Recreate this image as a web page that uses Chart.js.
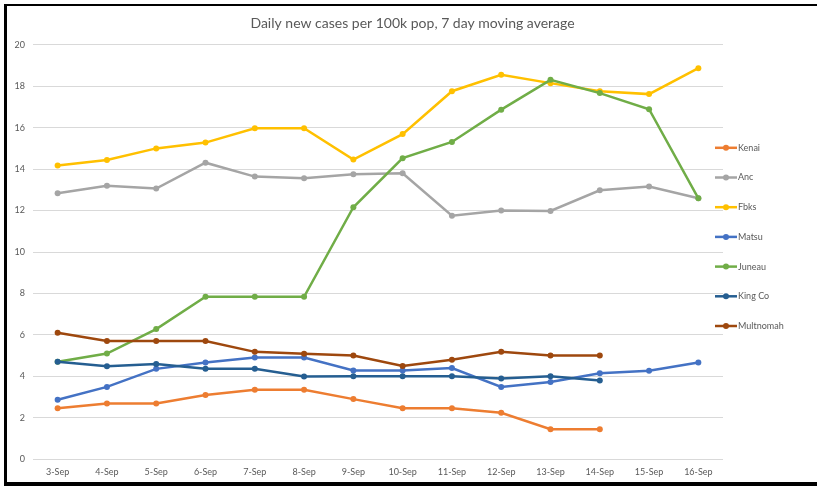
<!DOCTYPE html>
<html>
<head>
<meta charset="UTF-8">
<title>Daily new cases per 100k pop</title>
<script src="https://cdn.jsdelivr.net/npm/chart.js"></script>
<style>
    html, body { margin: 0; padding: 0; background: #fff; }
    #wrap { position: relative; width: 817px; height: 487px; overflow: hidden; }
    #frame {
        position: absolute; left: 4px; top: 4px; width: 900px; height: 476px;
        border-top: 2px solid #000; border-left: 3px solid #000; border-bottom: 4px solid #000;
        pointer-events: none;
    }
</style>
</head>
<body>
<div id="wrap">
    <canvas id="chart" width="817" height="487"></canvas>
    <div id="frame"></div>
</div>
<script>
    const days = ['3-Sep', '4-Sep', '5-Sep', '6-Sep', '7-Sep', '8-Sep', '9-Sep',
                  '10-Sep', '11-Sep', '12-Sep', '13-Sep', '14-Sep', '15-Sep', '16-Sep'];

    const kenai     = [2.46, 2.69, 2.69, 3.10, 3.35, 3.35, 2.90, 2.46, 2.46, 2.24, 1.45, 1.45, null, null];
    const anc       = [12.84, 13.20, 13.06, 14.31, 13.64, 13.56, 13.75, 13.80, 11.75, 12.00, 11.98, 12.98, 13.16, 12.59];
    const fbks      = [14.17, 14.44, 15.00, 15.28, 15.97, 15.97, 14.46, 15.69, 17.76, 18.55, 18.15, 17.76, 17.62, 18.87];
    const matsu     = [2.87, 3.49, 4.36, 4.67, 4.91, 4.91, 4.28, 4.28, 4.40, 3.49, 3.73, 4.15, 4.27, 4.67];
    const juneau    = [4.70, 5.10, 6.28, 7.84, 7.84, 7.84, 12.16, 14.53, 15.31, 16.87, 18.31, 17.67, 16.89, 12.59];
    const kingCo    = [4.70, 4.49, 4.60, 4.36, 4.36, 3.99, 4.00, 4.00, 4.00, 3.90, 4.00, 3.80, null, null];
    const multnomah = [6.10, 5.70, 5.70, 5.70, 5.18, 5.09, 5.00, 4.50, 4.80, 5.18, 5.00, 5.00, null, null];

    const seriesNames  = ['Kenai', 'Anc', 'Fbks', 'Matsu', 'Juneau', 'King Co', 'Multnomah'];
    const seriesValues = [kenai, anc, fbks, matsu, juneau, kingCo, multnomah];
    const seriesColors = ['#ED7D31', '#A5A5A5', '#FFC000', '#4472C4', '#70AD47', '#255E91', '#9E480E'];

    const yTicks = { min: 0, max: 20, step: 2 };

    const textColor = '#595959';
    const fontFamily = 'Lato, "Open Sans", sans-serif';

    // legend drawn like Excel: short line with a dot, to the right of the plot
    const sideLegend = {
        id: 'sideLegend',
        afterDraw(chart) {
            const ctx = chart.ctx;
            const area = chart.chartArea;
            const x0 = area.right - 8;
            const y0 = area.top + 103;
            ctx.save();
            ctx.font = '9px ' + fontFamily;
            ctx.textBaseline = 'middle';
            chart.data.datasets.forEach((ds, i) => {
                const y = y0 + i * 29.7;
                ctx.strokeStyle = ds.borderColor;
                ctx.lineWidth = 2.5;
                ctx.beginPath();
                ctx.moveTo(x0, y);
                ctx.lineTo(x0 + 22, y);
                ctx.stroke();
                ctx.beginPath();
                ctx.fillStyle = ds.borderColor;
                ctx.arc(x0 + 11, y, 3, 0, Math.PI * 2);
                ctx.fill();
                ctx.fillStyle = textColor;
                ctx.fillText(ds.label, x0 + 23, y);
            });
            ctx.restore();
        }
    };

    new Chart(document.getElementById('chart'), {
        type: 'line',
        data: {
            labels: days,
            datasets: seriesNames.map((name, i) => ({
                label: name,
                data: seriesValues[i],
                borderColor: seriesColors[i],
                backgroundColor: seriesColors[i],
                borderWidth: 2.5,
                pointRadius: 3,
                pointBorderWidth: 0,
                pointBackgroundColor: seriesColors[i],
                tension: 0,
                spanGaps: false,
                order: -i
            }))
        },
        options: {
            responsive: false,
            animation: false,
            layout: { padding: { left: 8, right: 0, top: 0, bottom: 3 } },
            plugins: {
                legend: { display: false },
                tooltip: { enabled: false },
                title: {
                    display: true,
                    text: 'Daily new cases per 100k pop, 7 day moving average',
                    color: textColor,
                    font: { family: fontFamily, size: 14, weight: 'normal' },
                    padding: { top: 15, bottom: 13 }
                }
            },
            scales: {
                x: {
                    offset: true,
                    grid: { display: false, drawTicks: false },
                    border: { display: false },
                    ticks: {
                        color: textColor,
                        font: { family: fontFamily, size: 9 },
                        padding: 7,
                        maxRotation: 0,
                        autoSkip: false
                    }
                },
                y: {
                    min: yTicks.min,
                    max: yTicks.max,
                    grid: { color: '#D9D9D9', lineWidth: 1, drawTicks: false },
                    border: { display: false },
                    ticks: {
                        stepSize: yTicks.step,
                        color: textColor,
                        font: { family: fontFamily, size: 9 },
                        padding: 8
                    },
                    afterFit(scale) { scale.width = 25; }
                },
                legendSpace: {
                    position: 'right',
                    grid: { display: false, drawTicks: false },
                    border: { display: false },
                    ticks: { display: false },
                    afterFit(scale) { scale.width = 94; }
                }
            }
        },
        plugins: [sideLegend]
    });
</script>
</body>
</html>
